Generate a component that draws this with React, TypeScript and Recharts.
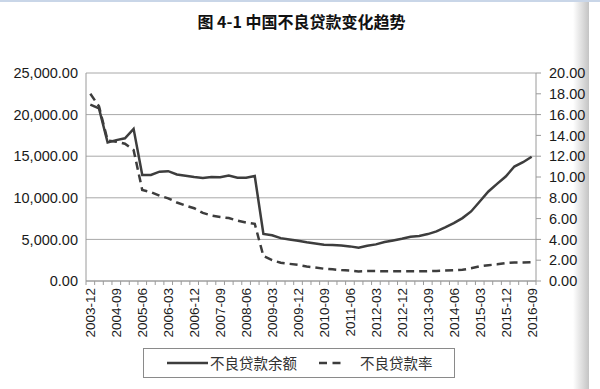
import React from 'react';
import { LineChart, Line, XAxis, YAxis, CartesianGrid, Legend } from 'recharts';

const quarters = [
  '2003-12',
  '2004-03', '2004-06', '2004-09', '2004-12',
  '2005-03', '2005-06', '2005-09', '2005-12',
  '2006-03', '2006-06', '2006-09', '2006-12',
  '2007-03', '2007-06', '2007-09', '2007-12',
  '2008-03', '2008-06', '2008-09', '2008-12',
  '2009-03', '2009-06', '2009-09', '2009-12',
  '2010-03', '2010-06', '2010-09', '2010-12',
  '2011-03', '2011-06', '2011-09', '2011-12',
  '2012-03', '2012-06', '2012-09', '2012-12',
  '2013-03', '2013-06', '2013-09', '2013-12',
  '2014-03', '2014-06', '2014-09', '2014-12',
  '2015-03', '2015-06', '2015-09', '2015-12',
  '2016-03', '2016-06', '2016-09',
];

// 不良贷款余额 (left axis)
const balance = [
  21200,
  20750, 16650, 16930, 17150,
  18290, 12740, 12740, 13140,
  13200, 12800, 12660, 12500,
  12380, 12500, 12480, 12680,
  12420, 12420, 12620, 5650,
  5500, 5150, 5000, 4850,
  4650, 4520, 4360, 4320,
  4280, 4160, 4000, 4240,
  4400, 4680, 4880, 5080,
  5320, 5420, 5640, 5960,
  6440, 6960, 7560, 8360,
  9560, 10760, 11680, 12560,
  13760, 14280, 14940,
];

// 不良贷款率 (right axis)
const ratio = [
  18.0,
  16.8, 13.5, 13.4, 13.2,
  12.6, 8.75, 8.55, 8.2,
  7.95, 7.55, 7.25, 7.0,
  6.55, 6.3, 6.15, 6.05,
  5.8, 5.62, 5.5, 2.4,
  2.0, 1.75, 1.65, 1.55,
  1.4, 1.3, 1.18, 1.12,
  1.05, 1.0, 0.92, 0.95,
  0.95, 0.93, 0.93, 0.93,
  0.93, 0.93, 0.95, 0.97,
  1.0, 1.03, 1.08, 1.22,
  1.42, 1.52, 1.6, 1.72,
  1.78, 1.78, 1.8,
];

const leftTicks = [0, 5000, 10000, 15000, 20000, 25000];
const rightTicks = [0, 2, 4, 6, 8, 10, 12, 14, 16, 18, 20];
const labelEvery = 3;

const seriesNames = { balance: '不良贷款余额', ratio: '不良贷款率' };
const title = '图 4-1 中国不良贷款变化趋势';

const data = quarters.map((q, i) => ({ q, balance: balance[i], ratio: ratio[i] }));

const LINE_COLOR = '#3d3d3d';
const AXIS_COLOR = '#9a9a9a';
const GRID_COLOR = '#a8a8a8';
const TEXT_COLOR = '#1a1a1a';
const AXIS_FONT = '"Liberation Sans", Arial, sans-serif';
const CJK_FONT = '"Noto Sans CJK SC", "Noto Sans", sans-serif';
const HALF_STEP = 4.327;

const XTick = (props: any) => {
  const { x, y, payload, index } = props;
  const idx = typeof index === 'number' ? index : payload?.index ?? 0;
  const isLast = idx === quarters.length - 1;
  return (
    <g>
      <line x1={x - HALF_STEP} x2={x - HALF_STEP} y1={y} y2={y + 4} stroke={AXIS_COLOR} strokeWidth={1} />
      {isLast && (
        <line x1={x + HALF_STEP} x2={x + HALF_STEP} y1={y} y2={y + 4} stroke={AXIS_COLOR} strokeWidth={1} />
      )}
      {idx % labelEvery === 0 && (
        <text
          x={x}
          y={y + 7}
          dy="0.36em"
          transform={`rotate(-90, ${x}, ${y + 7})`}
          textAnchor="end"
          fontSize={13.5}
          fontFamily={AXIS_FONT}
          fill={TEXT_COLOR}
        >
          {payload.value}
        </text>
      )}
    </g>
  );
};

const renderLegend = () => (
  <div
    style={{
      position: 'relative',
      width: 312,
      height: 30,
      boxSizing: 'border-box',
      border: '1px solid #8a8a8a',
      background: '#fff',
      fontFamily: CJK_FONT,
      fontSize: 14.5,
      color: '#333',
    }}
  >
    <svg width={312} height={30} style={{ position: 'absolute', left: -1, top: -1 }}>
      <line x1={24} x2={65} y1={15} y2={15} stroke={LINE_COLOR} strokeWidth={2.5} />
      <line x1={176} x2={198} y1={15} y2={15} stroke={LINE_COLOR} strokeWidth={2.5} strokeDasharray="8 5.5" />
    </svg>
    <span style={{ position: 'absolute', left: 66, top: 4, lineHeight: '20px' }}>{seriesNames.balance}</span>
    <span style={{ position: 'absolute', left: 216, top: 4, lineHeight: '20px' }}>{seriesNames.ratio}</span>
  </div>
);

export default function App() {
  return (
    <div style={{ position: 'absolute', left: 0, top: 0, width: 600, height: 389, background: '#fff', overflow: 'hidden' }}>
      <div style={{ position: 'absolute', left: 0, top: 0, width: 600, height: 2, background: '#c9d6e8' }} />
      <div
        style={{
          position: 'absolute',
          left: 573,
          top: 2,
          width: 16,
          height: 387,
          background: 'linear-gradient(to right, #ffffff, #c4c4c4)',
        }}
      />
      <div
        style={{
          position: 'absolute',
          left: 0,
          top: 11,
          width: 603,
          textAlign: 'center',
          fontFamily: CJK_FONT,
          fontWeight: 700,
          fontSize: 16,
          lineHeight: '20px',
          color: '#111',
        }}
      >
        {title}
      </div>
      <div style={{ position: 'absolute', left: 0, top: 0 }}>
        <LineChart width={600} height={389} data={data} margin={{ top: 73, right: 0, left: 0, bottom: 48 }}>
          <CartesianGrid yAxisId="left" vertical={false} stroke={GRID_COLOR} strokeWidth={1} />
          <XAxis
            dataKey="q"
            interval={0}
            height={60}
            padding={{ left: HALF_STEP, right: HALF_STEP }}
            axisLine={{ stroke: AXIS_COLOR }}
            tickLine={false}
            tickSize={0}
            tickMargin={0}
            tick={<XTick />}
          />
          <YAxis
            yAxisId="left"
            width={86}
            domain={[0, 25000]}
            ticks={leftTicks}
            interval={0}
            axisLine={{ stroke: AXIS_COLOR }}
            tickLine={false}
            tickSize={0}
            tickMargin={8}
            tick={{ fontSize: 14.5, fontFamily: AXIS_FONT, fill: TEXT_COLOR }}
            tickFormatter={(v: number) => v.toLocaleString('en-US', { minimumFractionDigits: 2, maximumFractionDigits: 2 })}
          />
          <YAxis
            yAxisId="right"
            orientation="right"
            width={64}
            domain={[0, 20]}
            ticks={rightTicks}
            interval={0}
            axisLine={{ stroke: AXIS_COLOR }}
            tickLine={{ stroke: AXIS_COLOR }}
            tickSize={5}
            tickMargin={8}
            tick={{ fontSize: 14.5, fontFamily: AXIS_FONT, fill: TEXT_COLOR, textAnchor: 'start' }}
            tickFormatter={(v: number) => v.toFixed(2)}
          />
          <Line
            yAxisId="left"
            type="linear"
            dataKey="balance"
            name={seriesNames.balance}
            stroke={LINE_COLOR}
            strokeWidth={2.5}
            dot={false}
            activeDot={false}
            isAnimationActive={false}
          />
          <Line
            yAxisId="right"
            type="linear"
            dataKey="ratio"
            name={seriesNames.ratio}
            stroke={LINE_COLOR}
            strokeWidth={2.5}
            strokeDasharray="8 5"
            dot={false}
            activeDot={false}
            isAnimationActive={false}
          />
          <Legend
            layout="vertical"
            align="center"
            verticalAlign="middle"
            wrapperStyle={{ left: 143, top: 348, width: 312, height: 30 }}
            content={renderLegend}
          />
        </LineChart>
      </div>
    </div>
  );
}
